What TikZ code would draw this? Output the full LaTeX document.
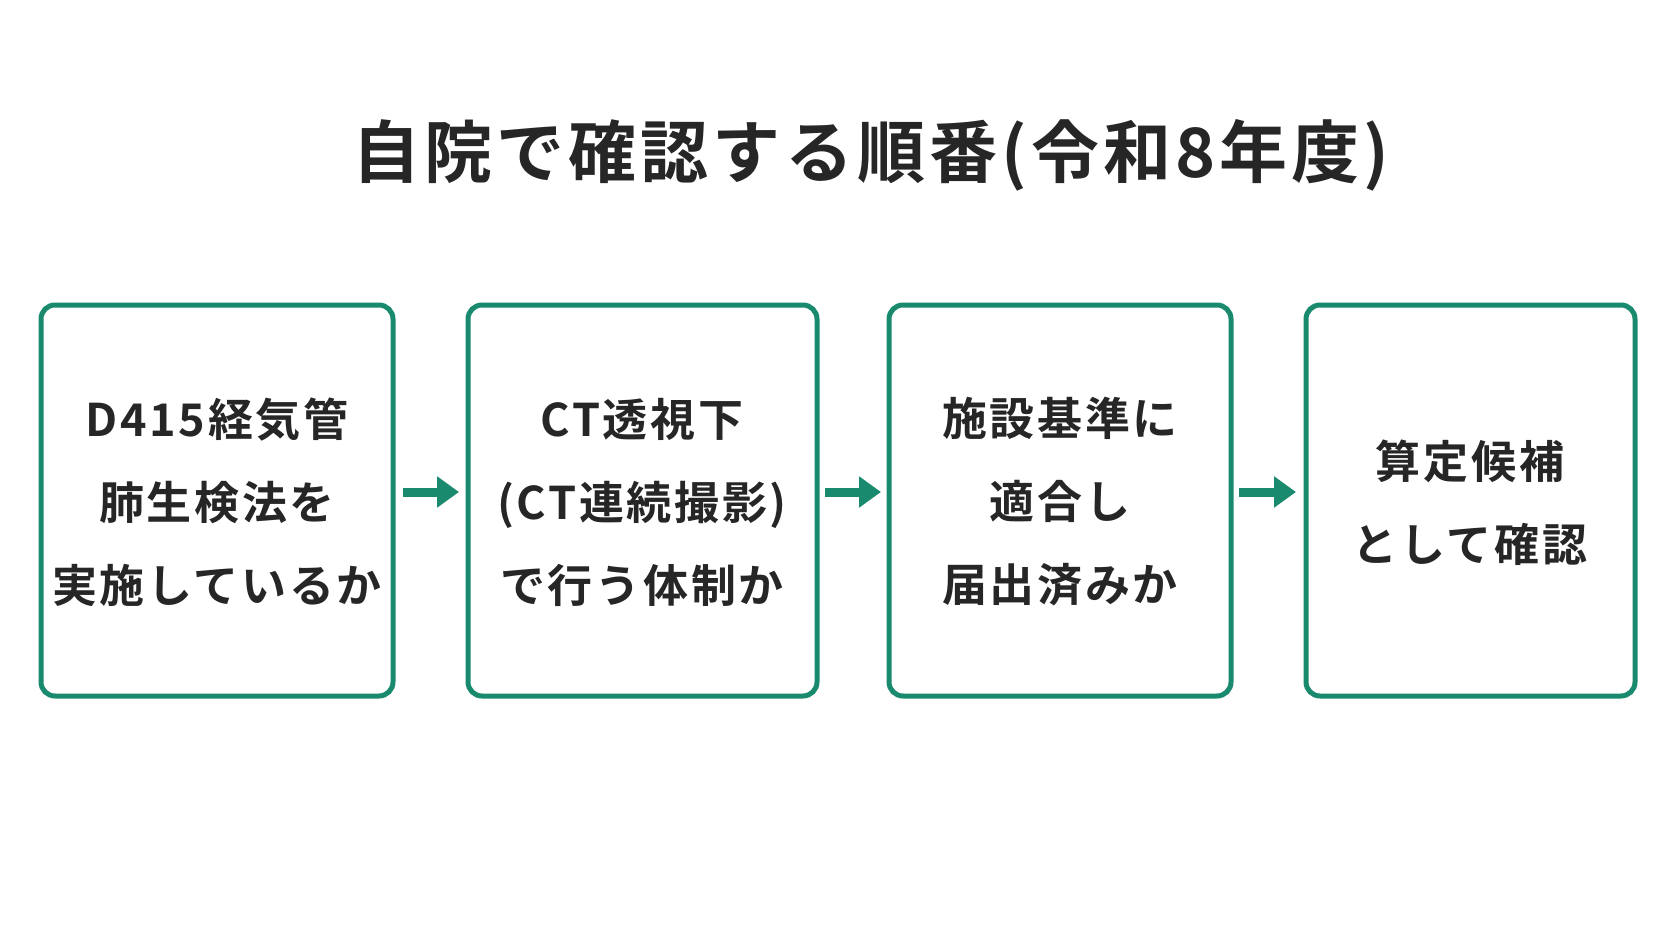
\documentclass[tikz,border=0pt]{standalone}
\usepackage{fontspec}
\newfontfamily\cjk{Noto Sans CJK JP}[BoldFont={Noto Sans CJK JP Bold},LetterSpace=6]
\usetikzlibrary{arrows.meta}
\definecolor{grn}{HTML}{1A8A6E}
\begin{document}
\begin{tikzpicture}[x=1pt,y=-1pt,
  box/.style={draw=grn,line width=5pt,rounded corners=14pt,fill=white},
  txt/.style={font=\cjk\bfseries\fontsize{45}{83}\selectfont,align=center,text=black!85},
  arr/.style={draw=grn,line width=9pt,-{Triangle[length=22pt,width=30pt]}}]
\useasboundingbox[fill=white] (0,0) rectangle (1672,941);
\node[font=\cjk\bfseries\fontsize{68}{80}\selectfont,text=black!85] (title) at (871,155) {自院で確認する順番(令和8年度)};
\draw[box] (41,305) rectangle (393,696);
\draw[box] (468,305) rectangle (817,696);
\draw[box] (889,305) rectangle (1231,696);
\draw[box] (1306,305) rectangle (1635,696);
\node[txt] (b1) at (217,502) {D415経気管\\肺生検法を\\実施しているか};
\node[txt] (b2) at (642,502) {CT透視下\\(CT連続撮影)\\で行う体制か};
\node[txt] (b3) at (1060,502) {施設基準に\\適合し\\届出済みか};
\node[txt] (b4) at (1470,503) {算定候補\\として確認};
\coordinate (a1s) at (403,492); \coordinate (a1e) at (459,492);
\coordinate (a2s) at (825,492); \coordinate (a2e) at (881,492);
\coordinate (a3s) at (1239,492); \coordinate (a3e) at (1296,492);
\draw[arr] (a1s) -- (a1e);
\draw[arr] (a2s) -- (a2e);
\draw[arr] (a3s) -- (a3e);
\end{tikzpicture}
\end{document}
